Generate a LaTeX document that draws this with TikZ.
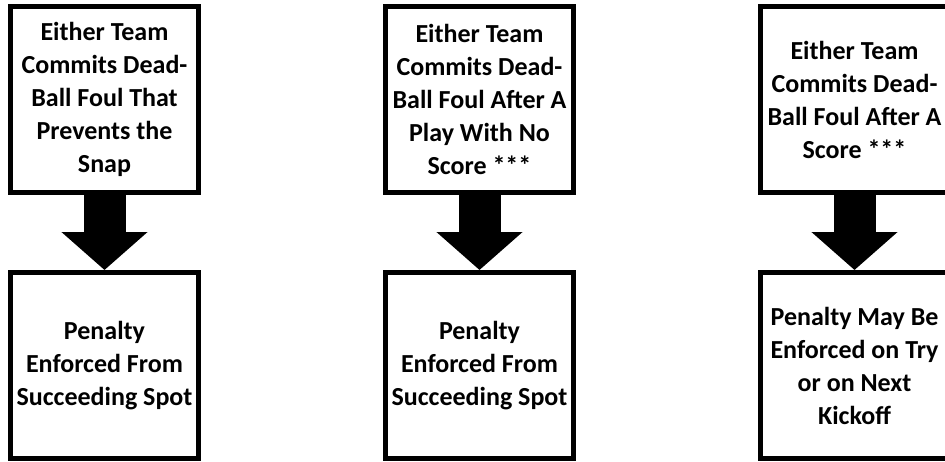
\documentclass[tikz,border=0pt]{standalone}
\usepackage{fontspec}
\setmainfont{Carlito}
\usetikzlibrary{arrows.meta,positioning}

\tikzset{
  foulbox/.style={draw, line width=3.75pt, minimum width=141pt, minimum height=139.5pt,
    inner sep=0pt, align=center, font=\bfseries\fontsize{19.5}{24.75}\selectfont},
  bigarrow/.style={line width=31.5pt, -{Triangle[width=63pt,length=28.5pt]}}
}

\begin{document}
\begin{tikzpicture}[x=0.75pt,y=-0.75pt]
        \useasboundingbox (0,0) rectangle (945,461);
        \clip (0,0) rectangle (945,461);
        % Fouls
        \node[foulbox] (foul1) at (104.5,99.5) {Either Team\\Commits Dead-\\Ball Foul That\\Prevents the\\Snap};
        \node[foulbox, right=136.5pt of foul1] (foul2) {Either Team\\Commits Dead-\\Ball Foul After A\\Play With No\\Score ***};
        \node[foulbox, right=136.5pt of foul2] (foul3) {Either Team\\Commits Dead-\\Ball Foul After A\\Score ***};
        % Enforcement
        \node[foulbox, below=56.25pt of foul1] (pen1) {Penalty\\Enforced From\\Succeeding Spot};
        \node[foulbox, below=56.25pt of foul2] (pen2) {Penalty\\Enforced From\\Succeeding Spot};
        \node[foulbox, below=56.25pt of foul3] (pen3) {Penalty May Be\\Enforced on Try\\or on Next\\Kickoff};
        % Arrows
        \draw[bigarrow] (foul1) -- (pen1);
        \draw[bigarrow] (foul2) -- (pen2);
        \draw[bigarrow] (foul3) -- (pen3);
    \end{tikzpicture}
\end{document}
